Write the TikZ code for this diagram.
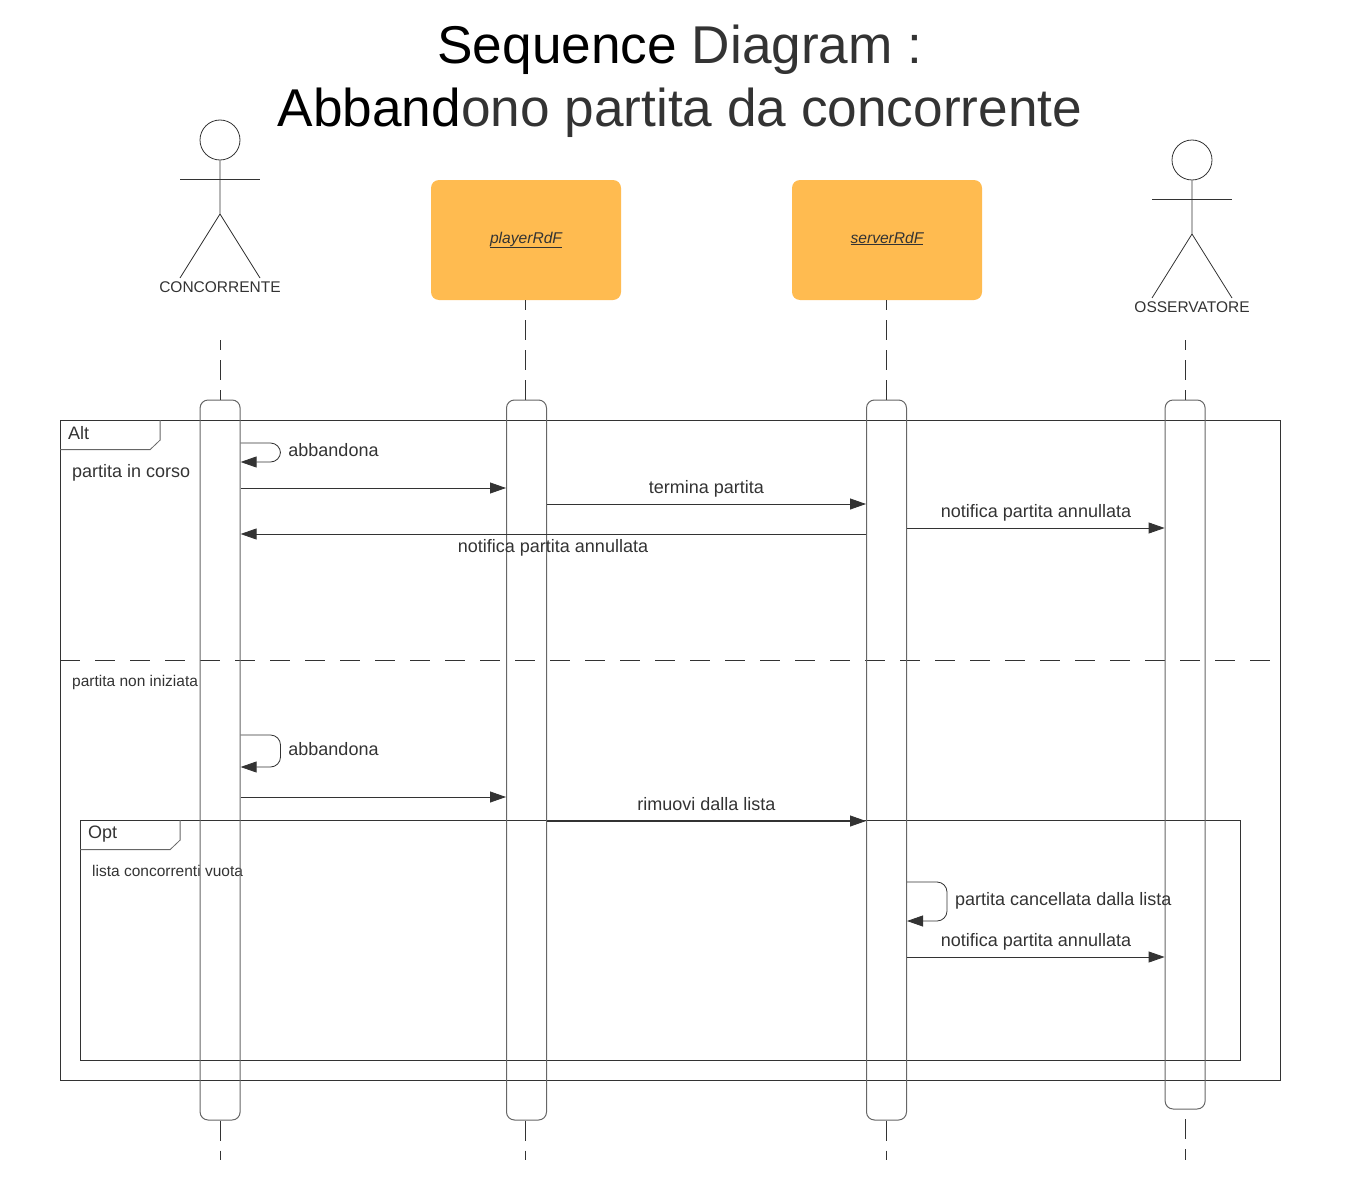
\documentclass[tikz,border=0pt]{standalone}
\usepackage{fontspec}
\usepackage{tikz}
\usetikzlibrary{arrows.meta}
\setmainfont{Liberation Sans}
\definecolor{inkgray}{HTML}{333333}
\definecolor{bargray}{HTML}{666666}
\definecolor{boxorange}{HTML}{FFBB50}
\tikzset{
  titletext/.style={text=inkgray,inner sep=0,font=\fontsize{53.2}{60}\selectfont},
  msgtext/.style={text=inkgray,inner sep=0,font=\fontsize{18}{22}\selectfont},
  smalltext/.style={text=inkgray,inner sep=0,font=\fontsize{15.5}{18}\selectfont},
  objbox/.style={fill=boxorange,rounded corners=8,minimum width=190,minimum height=120,inner sep=0,text=inkgray,text height=11,text depth=5,font=\fontsize{15.6}{18}\selectfont\itshape},
  lifebar/.style={draw=bargray,line width=1pt,rounded corners=8,minimum width=40,inner sep=0},
  lifeline/.style={draw=inkgray,line width=0.8pt,dash pattern=on 20pt off 10pt},
  frame/.style={draw=inkgray,line width=0.8pt,inner sep=0},
  tab/.style={draw=bargray,line width=0.8pt},
  msg/.style={draw=inkgray,line width=0.8pt,-{Triangle[length=16pt,width=11pt,color=inkgray]}},
  selfmsg/.style={msg,rounded corners=10},
  head/.style={circle,draw=inkgray,line width=0.8pt,minimum size=40,inner sep=0},
  limb/.style={draw=inkgray,line width=0.8pt}
}
\begin{document}
\begin{tikzpicture}[x=1pt,y=-1pt]
\useasboundingbox (0,0) rectangle (1363,1196);

\node[titletext] (titleA) at (680,49.5) {{\color{black}Sequence} Diagram :};
\node[titletext] (titleB) at (680,112.5) {{\color{black}Abband}ono partita da concorrente};

\node[head] (headC) at (220,140) {};
\draw[limb] (headC.south) -- (220,214) -- (180,278);
\draw[limb] (220,214) -- (260,278);
\draw[limb] (180,179) -- (260,179);
\node[smalltext] (nameC) at (220,287) {CONCORRENTE};

\node[head] (headO) at (1192,160) {};
\draw[limb] (headO.south) -- (1192,234) -- (1152,298);
\draw[limb] (1192,234) -- (1232,298);
\draw[limb] (1152,199) -- (1232,199);
\node[smalltext] (nameO) at (1192,307) {OSSERVATORE};

\node[objbox] (player) at (526,240) {\underline{playerRdF}};
\node[objbox] (server) at (887,240) {\underline{serverRdF}};

\node[frame,minimum width=1220,minimum height=660] (altframe) at (670.5,750.5) {};
\draw[tab] (altframe.north west) ++(100,0) -- ++(0,20) -- ++(-10,9.5) -- ++(-90,0);
\node[msgtext,anchor=west] (altname) at (68,433) {Alt};
\node[msgtext,anchor=west] (altcond) at (72,473) {partita in corso};
\node[smalltext,anchor=west] (altother) at (72,682) {partita non iniziata};
\draw[draw=inkgray,line width=0.8pt,dash pattern=on 20pt off 15pt] (altframe.west |- 0,660) -- (1272,660);

\node[frame,minimum width=1160,minimum height=240] (optframe) at (660.5,940.5) {};
\draw[tab] (optframe.north west) ++(100,0) -- ++(0,20) -- ++(-10,9.5) -- ++(-90,0);
\node[msgtext,anchor=west] (optname) at (88,834) {Opt};
\node[smalltext,anchor=west] (optcond) at (92,871) {lista concorrenti vuota};

\node[lifebar,minimum height=720] (barC) at (220.1,760) {};
\node[lifebar,minimum height=720] (barP) at (526.5,760) {};
\node[lifebar,minimum height=720] (barS) at (886.5,760) {};
\node[lifebar,minimum height=709] (barO) at (1185.1,754.5) {};

\coordinate (lineC) at (220.5,340);
\coordinate (lineP) at (525.5,300);
\coordinate (lineS) at (886,300);
\coordinate (lineO) at (1185.5,340);

\draw[lifeline,dash phase=10pt] (lineC) -- (lineC |- barC.north);
\draw[lifeline,dash phase=10pt] (lineP) -- (lineP |- barP.north);
\draw[lifeline,dash phase=10pt] (lineS) -- (lineS |- barS.north);
\draw[lifeline,dash phase=10pt] (lineO) -- (lineO |- barO.north);
\draw[lifeline] (lineC |- barC.south) -- (lineC |- 0,1160);
\draw[lifeline] (lineP |- barP.south) -- (lineP |- 0,1160);
\draw[lifeline] (lineS |- barS.south) -- (lineS |- 0,1160);
\draw[lifeline] (lineO |- 0,1119) -- (lineO |- 0,1160);

\draw[selfmsg] (barC.east |- 0,443) -- (280.5,443) -- (280.5,462) -- (barC.east |- 0,462);
\node[msgtext] (selfA) at (333.5,450) {abbandona};
\draw[msg] (barC.east |- 0,488) -- (barP.west |- 0,488);
\draw[msg] (barP.east |- 0,504) -- (barS.west |- 0,504);
\node[msgtext] (msgA) at (706.5,488.8) {termina partita};
\draw[msg] (barS.east |- 0,528) -- (barO.west |- 0,528);
\node[msgtext] (msgB) at (1036,512.8) {notifica partita annullata};
\draw[msg] (barS.west |- 0,534) -- (barC.east |- 0,534);
\node[msgtext] (msgC) at (553,547.8) {notifica partita annullata};

\draw[selfmsg] (barC.east |- 0,735) -- (280.5,735) -- (280.5,767) -- (barC.east |- 0,767);
\node[msgtext] (selfB) at (333.5,749) {abbandona};
\draw[msg] (barC.east |- 0,797) -- (barP.west |- 0,797);
\draw[msg] (barP.east |- 0,821) -- (barS.west |- 0,821);
\node[msgtext] (msgD) at (706.5,804) {rimuovi dalla lista};

\draw[selfmsg] (barS.east |- 0,882) -- (947,882) -- (947,921) -- (barS.east |- 0,921);
\node[msgtext,anchor=west] (selfC) at (955,901) {partita cancellata dalla lista};
\draw[msg] (barS.east |- 0,957) -- (barO.west |- 0,957);
\node[msgtext] (msgE) at (1036,942) {notifica partita annullata};
\end{tikzpicture}
\end{document}
